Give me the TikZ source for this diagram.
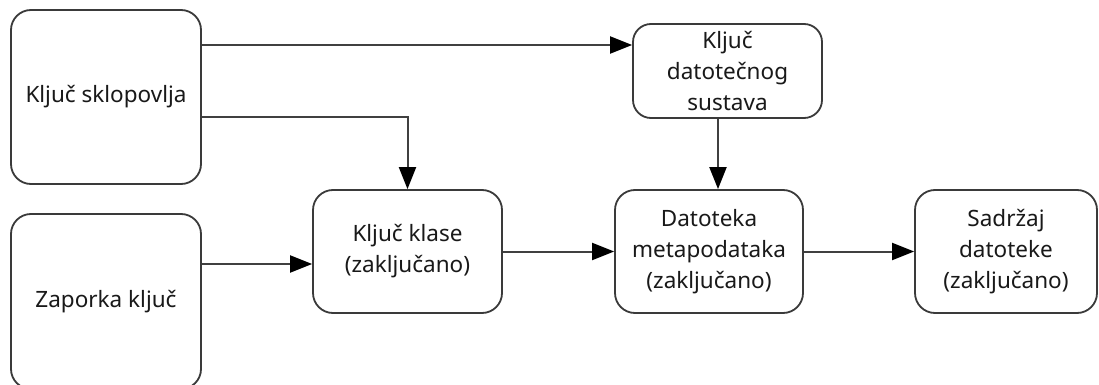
\documentclass[tikz,border=0pt]{standalone}
\usepackage{fontspec}
\setmainfont{Noto Sans}
\usetikzlibrary{arrows.meta}
\definecolor{edge}{HTML}{3A3A3A}
\begin{document}
\begin{tikzpicture}[x=1pt,y=-1pt,
  box/.style={draw=edge,line width=1.8pt,rounded corners=20pt,align=center,
    inner sep=0pt,font=\fontsize{22.5}{31}\selectfont,text=black!90},
  arr/.style={draw=black!75,line width=2pt,-{Triangle[length=22pt,width=17pt,color=black]}}]
\clip (0,0) rectangle (1099,385);
\fill[white] (0,0) rectangle (1099,385);
\node[box,minimum width=190pt,minimum height=174pt] (b1) at (106,97) {Ključ sklopovlja};
\node[box,minimum width=190pt,minimum height=175pt] (b2) at (106,301.5) {Zaporka ključ};
\node[box,minimum width=189pt,minimum height=123pt] (b3) at (407.5,251.5) {Ključ klase\\(zaključano)};
\node[box,minimum width=189pt,minimum height=94pt,rounded corners=18pt] (b4) at (727.5,71) {Ključ\\datotečnog\\sustava};
\node[box,minimum width=188pt,minimum height=123pt] (b5) at (709,251.5) {Datoteka\\metapodataka\\(zaključano)};
\node[box,minimum width=182pt,minimum height=123pt] (b6) at (1006,251.5) {Sadržaj\\datoteke\\(zaključano)};
\coordinate (y45) at (0,45);
\coordinate (y117) at (0,117);
\coordinate (y264) at (0,264);
\coordinate (x718) at (718,0);
\draw[arr] (b1.east |- y45) -- (b4.west |- y45);
\draw[arr] (b1.east |- y117) -| (b3.north);
\draw[arr] (b2.east |- y264) -- (b3.west |- y264);
\draw[arr] (b3.east) -- (b5.west);
\draw[arr] (b4.south -| x718) -- (b5.north -| x718);
\draw[arr] (b5.east) -- (b6.west);
\end{tikzpicture}
\end{document}
